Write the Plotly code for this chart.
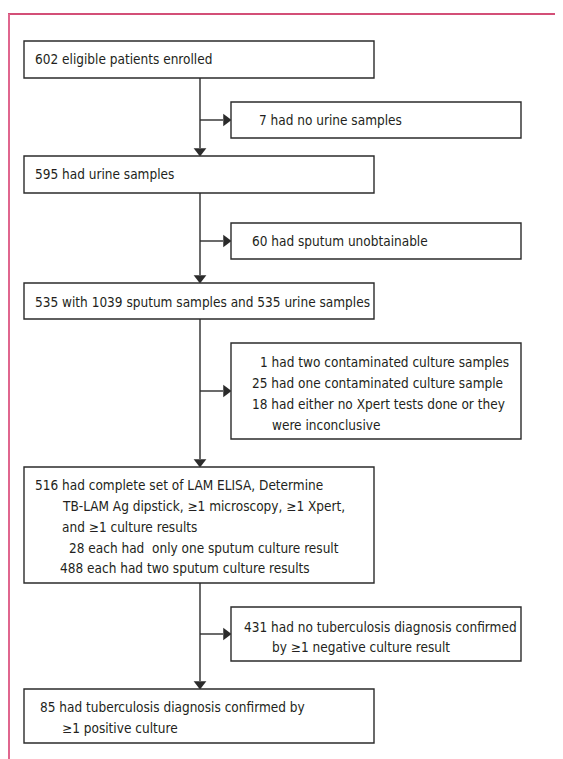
import plotly.graph_objects as go

# ---- content ----
main_texts = [
    ["602 eligible patients enrolled"],
    ["595 had urine samples"],
    ["535 with 1039 sputum samples and 535 urine samples"],
    ["516 had complete set of LAM ELISA, Determine",
     "TB-LAM Ag dipstick, \u22651 microscopy, \u22651 Xpert,",
     "and \u22651 culture results",
     "28 each had  only one sputum culture result",
     "488 each had two sputum culture results"],
    ["85 had tuberculosis diagnosis confirmed by",
     "\u22651 positive culture"],
]
side_texts = [
    ["7 had no urine samples"],
    ["60 had sputum unobtainable"],
    ["1 had two contaminated culture samples",
     "25 had one contaminated culture sample",
     "18 had either no Xpert tests done or they",
     "were inconclusive"],
    ["431 had no tuberculosis diagnosis confirmed",
     "by \u22651 negative culture result"],
]

# ---- layout (pixel geometry of the page) ----
W, H = 563, 759
OFF = 8  # page body margin
MAIN_X0, MAIN_X1 = 24, 374
SIDE_X0, SIDE_X1 = 231, 521
STEM_X = 200
main_y = [(41, 78), (156, 193), (283, 319), (467, 583), (689, 743)]
side_y = [(102, 138), (223, 259), (343, 439), (607, 661)]
main_line_pos = [
    [(33, 59)],
    [(33, 174)],
    [(33, 302)],
    [(33, 485), (60, 506), (60, 527), (67, 548), (58, 568)],
    [(38, 707), (60, 728)],
]
side_line_pos = [
    [(257, 120)],
    [(250, 241)],
    [(258, 362), (250, 383), (250, 404), (270, 425)],
    [(242, 627), (270, 647)],
]

FONT = "DejaVu Sans Condensed, Liberation Sans Narrow, sans-serif"
FS = 13.5
BOX_COL = "#2b2b2b"
TXT_COL = "#231f20"

fig = go.Figure()
shapes = []
annotations = []

# frame
shapes.append(dict(type="line", x0=8, x1=W + OFF, y0=14, y1=14, line=dict(color="#c4154a", width=1.6)))
shapes.append(dict(type="line", x0=9, x1=9, y0=14, y1=H + OFF, line=dict(color="#e0668e", width=2)))

for (y0, y1) in main_y:
    shapes.append(dict(type="rect", x0=MAIN_X0, x1=MAIN_X1, y0=y0, y1=y1,
                       line=dict(color=BOX_COL, width=1.4), fillcolor="white"))
for (y0, y1) in side_y:
    shapes.append(dict(type="rect", x0=SIDE_X0, x1=SIDE_X1, y0=y0, y1=y1,
                       line=dict(color=BOX_COL, width=1.4), fillcolor="white"))

# stems and branch arrows
down_x, down_y, right_x, right_y = [], [], [], []
for i in range(len(main_y) - 1):
    ys = main_y[i][1]
    ye = main_y[i + 1][0]
    shapes.append(dict(type="line", x0=STEM_X, x1=STEM_X, y0=ys, y1=ye - 8,
                       line=dict(color=BOX_COL, width=1.4)))
    down_x.append(STEM_X)
    down_y.append(ye - 5)
    sy0, sy1 = side_y[i]
    ym = (sy0 + sy1) / 2
    shapes.append(dict(type="line", x0=STEM_X, x1=SIDE_X0 - 8, y0=ym, y1=ym,
                       line=dict(color=BOX_COL, width=1.4)))
    right_x.append(SIDE_X0 - 5)
    right_y.append(ym)

fig.add_trace(go.Scatter(x=down_x, y=down_y, mode="markers",
                         marker=dict(symbol="triangle-down", size=11, color=BOX_COL),
                         hoverinfo="skip", showlegend=False))
fig.add_trace(go.Scatter(x=right_x, y=right_y, mode="markers",
                         marker=dict(symbol="triangle-right", size=11, color=BOX_COL),
                         hoverinfo="skip", showlegend=False))

for lines, pos in list(zip(main_texts, main_line_pos)) + list(zip(side_texts, side_line_pos)):
    for t, (x, y) in zip(lines, pos):
        annotations.append(dict(x=x, y=y, text=t, showarrow=False, xanchor="left",
                                yanchor="middle", xref="x", yref="y",
                                font=dict(family=FONT, size=FS, color=TXT_COL)))

fig.update_layout(
    width=W, height=H, margin=dict(l=0, r=0, t=0, b=0),
    paper_bgcolor="white", plot_bgcolor="white",
    xaxis=dict(range=[OFF, W + OFF], visible=False, fixedrange=True),
    yaxis=dict(range=[H + OFF, OFF], visible=False, fixedrange=True),
    shapes=shapes, annotations=annotations, showlegend=False,
)
fig.write_html("out.html")
